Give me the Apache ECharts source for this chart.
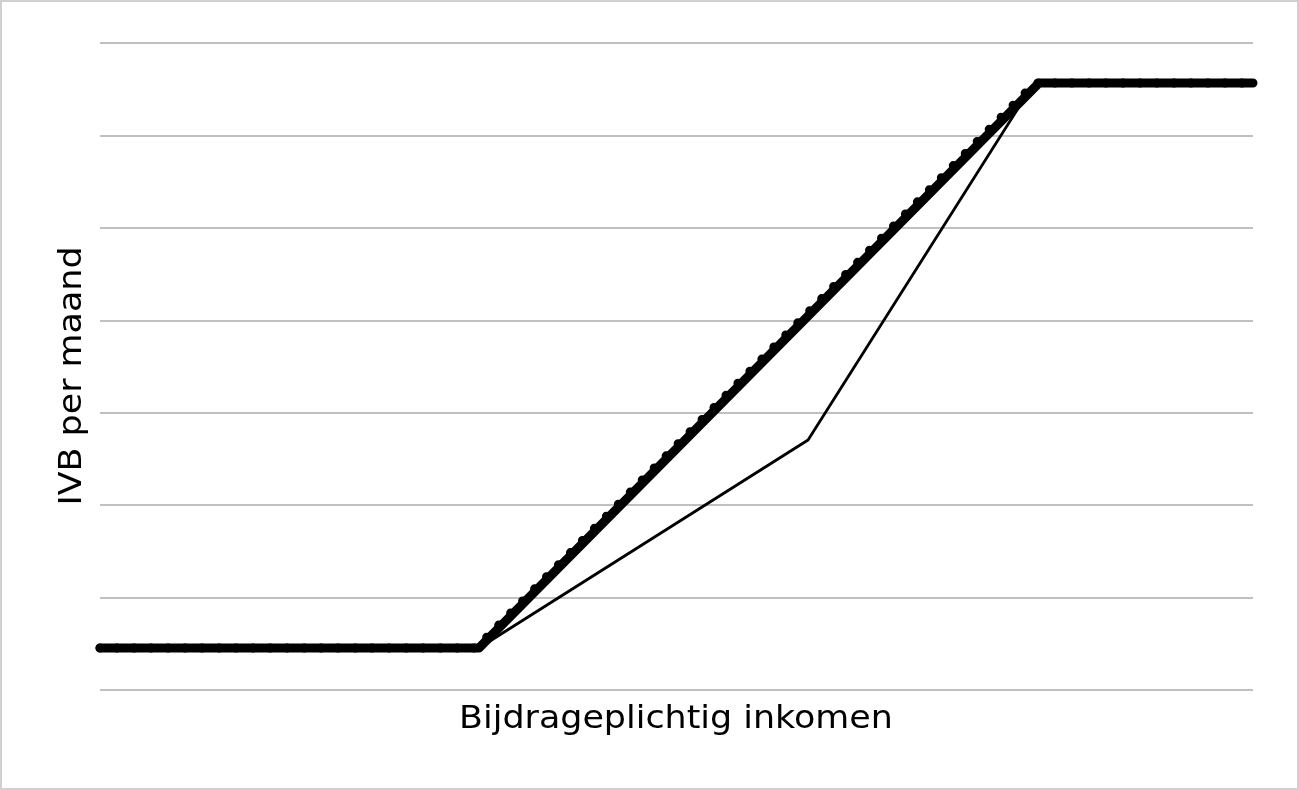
<!DOCTYPE html>
<html><head><meta charset="utf-8">
<script src="https://cdn.jsdelivr.net/npm/echarts@6/dist/echarts.min.js"></script>
<style>html,body{margin:0;padding:0;background:#fff}#c{width:1299px;height:790px}</style>
</head><body><div id="c"></div>
<script>
// Data (x: income in arbitrary units 0-100, y: IVB in arbitrary units 0-7)
const thickSolid = [[0,0.454],[32.87,0.454],[81.44,6.567],[100,6.567]];
const thickDotted = [[0,0.454],[32.61,0.454],[81.09,6.567],[100,6.567]];
const thinLine = [[32.87,0.454],[61.41,2.705],[80.14,6.394]];
const yTicks = [0,1,2,3,4,5,6,7];
const xName = 'Bijdrageplichtig inkomen';
const yName = 'IVB per maand';

const chart = echarts.init(document.getElementById('c'));
const font = 'DejaVu Sans, Verdana, sans-serif';
chart.setOption({
  animation:false,
  backgroundColor:'#fff',
  graphic:[
    {type:'rect',shape:{x:1,y:1,width:1297,height:788},style:{fill:'none',stroke:'#d0d0d0',lineWidth:2},silent:true},
    {type:'text',x:676,y:720,scaleX:1.09,style:{text:xName,font:'32px '+font,fill:'#000',textAlign:'center',textVerticalAlign:'middle'},silent:true},
    {type:'text',x:73,y:376,rotation:Math.PI/2,scaleX:1.09,style:{text:yName,font:'32px '+font,fill:'#000',textAlign:'center',textVerticalAlign:'middle'},silent:true}
  ],
  grid:{left:100,right:46,top:43,bottom:100},
  xAxis:{type:'value',min:0,max:100,axisLine:{show:false},axisTick:{show:false},axisLabel:{show:false},splitLine:{show:false}},
  yAxis:{type:'value',min:yTicks[0],max:yTicks[yTicks.length-1],interval:1,axisLine:{show:false},axisTick:{show:false},axisLabel:{show:false},
    splitLine:{show:true,lineStyle:{color:'#c0c0c0',width:2}}},
  series:[
    {type:'line',data:thinLine,showSymbol:false,lineStyle:{color:'#000',width:2.8},z:3},
    {type:'line',data:thickSolid,showSymbol:false,lineStyle:{color:'#000',width:9,join:'round',cap:'round'},z:4},
    {type:'line',data:thickDotted,showSymbol:false,lineStyle:{color:'#000',width:9,type:[0.01,17],cap:'round',join:'round'},z:5}
  ]
});
</script></body></html>
